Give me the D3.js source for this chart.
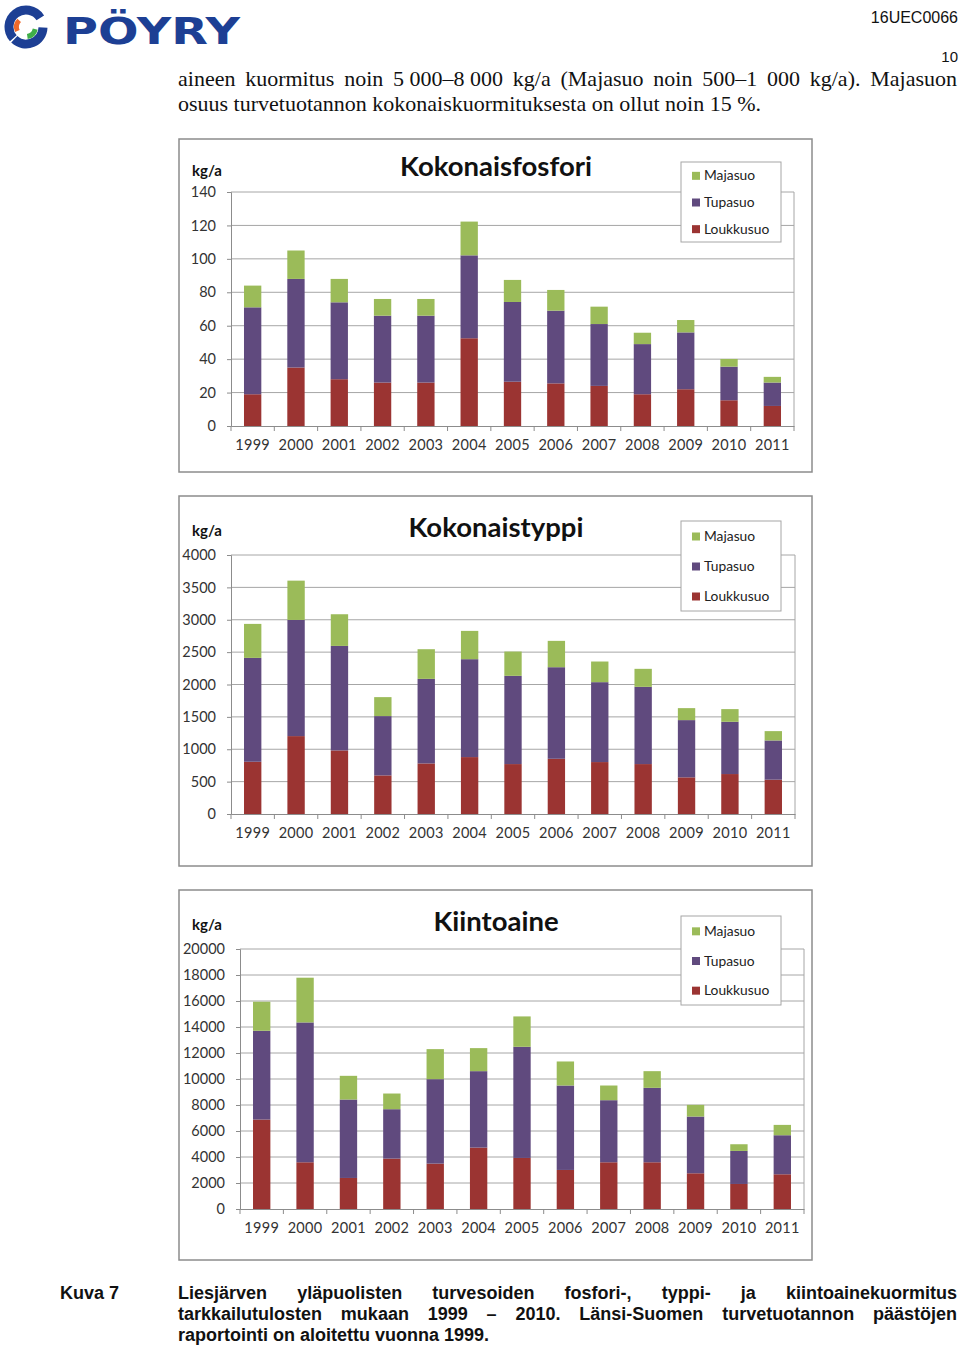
<!DOCTYPE html>
<html>
<head>
<meta charset="utf-8">
<script src="https://cdn.jsdelivr.net/npm/d3@7"></script>
<style>
  body { margin: 0; background: #fff; }
  #page { position: relative; width: 960px; height: 1347px; overflow: hidden; }
  svg { position: absolute; left: 0; top: 0; }
  .line { position: absolute; white-space: nowrap; }
  .just { text-align: justify; text-align-last: justify; white-space: normal; }
  .nb { display: inline-block; white-space: nowrap; }
  .serif { font-family: "Liberation Serif", "DejaVu Serif", serif; font-size: 22px; color: #111; }
  .cap { font-family: "Liberation Sans Narrow", "Liberation Sans", Arial, sans-serif; font-weight: bold; font-size: 18px; color: #111; }
</style>
</head>
<body>
<div id="page">
  <svg id="chart" width="960" height="1347"></svg>
  <div class="line" style="right:2px;top:9px;font:16px 'Liberation Sans',Arial,sans-serif;color:#111;">16UEC0066</div>
  <div class="line" style="right:2px;top:48px;font:15px 'Liberation Sans',Arial,sans-serif;color:#111;">10</div>
  <div class="line just serif" style="left:178px;top:66px;width:779px;">aineen kuormitus noin <span class="nb">5 000–8 000</span> kg/a (Majasuo noin 500–1 000 kg/a). Majasuon</div>
  <div class="line serif" style="left:178px;top:91px;">osuus turvetuotannon kokonaiskuormituksesta on ollut noin 15 %.</div>
  <div class="line cap" style="left:60px;top:1283px;">Kuva 7</div>
  <div class="line just cap" style="left:178px;top:1283px;width:779px;">Liesjärven yläpuolisten turvesoiden fosfori-, typpi- ja kiintoainekuormitus</div>
  <div class="line just cap" style="left:178px;top:1304px;width:779px;">tarkkailutulosten mukaan 1999 – 2010. Länsi-Suomen turvetuotannon päästöjen</div>
  <div class="line cap" style="left:178px;top:1325px;">raportointi on aloitettu vuonna 1999.</div>
</div>
<script>
// === Data ===
const years = ["1999", "2000", "2001", "2002", "2003", "2004", "2005", "2006", "2007", "2008", "2009", "2010", "2011"];
const seriesNames = ["Majasuo", "Tupasuo", "Loukkusuo"];

// Kokonaisfosfori, kg/a
const fosforiLoukkusuo = [19, 35, 28, 26, 26, 52.5, 26.5, 25.5, 24, 19, 22, 15.4, 12];
const fosforiTupasuo   = [52, 53, 46, 40, 40, 49.6, 47.7, 43.5, 37, 30, 34, 20.1, 14];
const fosforiMajasuo   = [13, 17, 14, 10, 10, 20.2, 13.2, 12.4, 10.4, 6.8, 7.4, 4.6, 3.4];
const fosforiTicks = [0, 20, 40, 60, 80, 100, 120, 140];

// Kokonaistyppi, kg/a
const typpiLoukkusuo = [807, 1203, 982, 596, 781, 879, 771, 853, 802, 771, 566, 617, 530];
const typpiTupasuo   = [1604, 1794, 1614, 916, 1306, 1512, 1363, 1414, 1234, 1193, 884, 807, 606];
const typpiMajasuo   = [525, 607, 489, 293, 458, 437, 375, 407, 319, 278, 185, 196, 144];
const typpiTicks = [0, 500, 1000, 1500, 2000, 2500, 3000, 3500, 4000];

// Kiintoaine, kg/a
const kiintoLoukkusuo = [6881, 3594, 2388, 3877, 3492, 4724, 3928, 3004, 3594, 3594, 2747, 1926, 2670];
const kiintoTupasuo   = [6829, 10758, 6033, 3799, 6495, 5879, 8550, 6495, 4776, 5726, 4365, 2541, 3004];
const kiintoMajasuo   = [2234, 3440, 1823, 1207, 2311, 1772, 2336, 1849, 1129, 1283, 898, 514, 796];
const kiintoTicks = [0, 2000, 4000, 6000, 8000, 10000, 12000, 14000, 16000, 18000, 20000];

const COLORS = { Majasuo: "#9bbb59", Tupasuo: "#604a7e", Loukkusuo: "#9b3432" };
const FONT = "Lato, 'Open Sans', sans-serif";

const svg = d3.select("#chart");

// --- Pöyry logo ---
function drawLogo() {
    const g = svg.append("g");
    const cx = 26, cy = 27, r = 17;
    const arc = d3.arc().innerRadius(r - 4.5).outerRadius(r + 4.5);
    g.append("path").attr("transform", `translate(${cx},${cy})`)
        .attr("d", arc({ startAngle: -2.3, endAngle: 1.0 })).attr("fill", "#1d3f94");
    g.append("path").attr("transform", `translate(${cx},${cy})`)
        .attr("d", arc({ startAngle: 1.6, endAngle: 3.9 })).attr("fill", "#1d3f94");
    const inner = d3.arc().innerRadius(7).outerRadius(12);
    g.append("path").attr("transform", `translate(${cx},${cy})`)
        .attr("d", inner({ startAngle: -2.0, endAngle: -0.8 })).attr("fill", "#ef6a2c");
    g.append("path").attr("transform", `translate(${cx},${cy})`)
        .attr("d", inner({ startAngle: 1.8, endAngle: 3.0 })).attr("fill", "#3fae49");
    g.append("text").attr("x", 63).attr("y", 44)
        .attr("textLength", 177).attr("lengthAdjust", "spacingAndGlyphs")
        .style("font-family", "'DejaVu Sans', sans-serif").style("font-weight", "bold")
        .style("font-size", "38px").attr("fill", "#1d3f94").text("PÖYRY");
}
drawLogo();

// --- Generic stacked bar chart ---
function drawChart(cfg) {
    const g = svg.append("g");

    // outer frame
    g.append("rect").attr("x", cfg.frame.x).attr("y", cfg.frame.y)
        .attr("width", cfg.frame.w).attr("height", cfg.frame.h)
        .attr("fill", "#fff").attr("stroke", "#8c8c8c").attr("stroke-width", 1.5);

    const x = d3.scaleBand().domain(years).range([cfg.plot.left, cfg.plot.right]).paddingInner(0.6).paddingOuter(0.3);
    const xOuter = d3.scaleBand().domain(years).range([cfg.plot.left, cfg.plot.right]);
    const y = d3.scaleLinear().domain([0, d3.max(cfg.ticks)]).range([cfg.plot.bottom, cfg.plot.top]);

    // gridlines
    g.append("g").selectAll("line").data(cfg.ticks.slice(1)).join("line")
        .attr("x1", cfg.plot.left).attr("x2", cfg.plot.right)
        .attr("y1", d => y(d)).attr("y2", d => y(d))
        .attr("stroke", "#a6a6a6").attr("stroke-width", 1);
    // right plot border
    g.append("line").attr("x1", cfg.plot.right).attr("x2", cfg.plot.right)
        .attr("y1", cfg.plot.top).attr("y2", cfg.plot.bottom)
        .attr("stroke", "#a6a6a6");

    // y axis
    const yAxis = g.append("g").attr("transform", `translate(${cfg.plot.left},0)`)
        .call(d3.axisLeft(y).tickValues(cfg.ticks).tickSize(4).tickPadding(11).tickFormat(d3.format("d")));
    yAxis.select(".domain").attr("stroke", "#8c8c8c");
    yAxis.selectAll(".tick line").attr("stroke", "#8c8c8c");
    yAxis.selectAll("text").style("font-family", FONT).style("font-size", "14.5px").attr("fill", "#333");

    // x axis with tick marks between categories
    const xAxis = g.append("g").attr("transform", `translate(0,${cfg.plot.bottom})`)
        .call(d3.axisBottom(xOuter).tickSize(0).tickPadding(14));
    xAxis.select(".domain").attr("stroke", "#8c8c8c");
    xAxis.selectAll("text").style("font-family", FONT).style("font-size", "14.5px")
        .style("letter-spacing", "0.3px").attr("fill", "#333");
    const edges = years.map(d => xOuter(d)).concat([cfg.plot.right]);
    g.append("g").selectAll("line").data(edges).join("line")
        .attr("x1", d => d).attr("x2", d => d)
        .attr("y1", cfg.plot.bottom).attr("y2", cfg.plot.bottom + 5)
        .attr("stroke", "#8c8c8c");

    // stacked bars: Loukkusuo at bottom, then Tupasuo, then Majasuo
    const rows = years.map((yr, i) => ({
        year: yr, Loukkusuo: cfg.loukkusuo[i], Tupasuo: cfg.tupasuo[i], Majasuo: cfg.majasuo[i]
    }));
    const stack = d3.stack().keys(["Loukkusuo", "Tupasuo", "Majasuo"])(rows);
    g.append("g").selectAll("g").data(stack).join("g")
        .attr("fill", d => COLORS[d.key])
        .selectAll("rect").data(d => d).join("rect")
        .attr("x", d => x(d.data.year))
        .attr("width", x.bandwidth())
        .attr("y", d => y(d[1]))
        .attr("height", d => y(d[0]) - y(d[1]));

    // title and unit label
    g.append("text").attr("x", 496).attr("y", cfg.titleY).attr("text-anchor", "middle")
        .style("font-family", FONT).style("font-weight", "bold").style("font-size", "27.5px")
        .attr("fill", "#111").text(cfg.title);
    g.append("text").attr("x", 192).attr("y", cfg.unitY)
        .style("font-family", FONT).style("font-weight", "bold").style("font-size", "15px")
        .attr("fill", "#111").text("kg/a");

    // legend
    const lg = g.append("g").attr("transform", `translate(${cfg.legend.x},${cfg.legend.y})`);
    lg.append("rect").attr("width", 100).attr("height", cfg.legend.h)
        .attr("fill", "#fff").attr("stroke", "#a6a6a6");
    const step = cfg.legend.h / 3;
    seriesNames.forEach((name, i) => {
        const cy = step * (i + 0.5) + 0.5;
        lg.append("rect").attr("x", 11).attr("y", cy - 4).attr("width", 8).attr("height", 8).attr("fill", COLORS[name]);
        lg.append("text").attr("x", 23).attr("y", cy + 4.5)
            .style("font-family", FONT).style("font-size", "13.8px").attr("fill", "#222").text(name);
    });
}

drawChart({
    title: "Kokonaisfosfori", titleY: 176, unitY: 176,
    frame: { x: 179, y: 139, w: 633, h: 333 },
    plot: { left: 231, right: 794, top: 192, bottom: 426 },
    legend: { x: 681, y: 162, h: 80 },
    ticks: fosforiTicks,
    loukkusuo: fosforiLoukkusuo, tupasuo: fosforiTupasuo, majasuo: fosforiMajasuo
});
drawChart({
    title: "Kokonaistyppi", titleY: 537, unitY: 536,
    frame: { x: 179, y: 496, w: 633, h: 370 },
    plot: { left: 231, right: 795, top: 555, bottom: 814 },
    legend: { x: 681, y: 521, h: 90 },
    ticks: typpiTicks,
    loukkusuo: typpiLoukkusuo, tupasuo: typpiTupasuo, majasuo: typpiMajasuo
});
drawChart({
    title: "Kiintoaine", titleY: 931, unitY: 930,
    frame: { x: 179, y: 890, w: 633, h: 370 },
    plot: { left: 240, right: 804, top: 949, bottom: 1209 },
    legend: { x: 681, y: 916, h: 89 },
    ticks: kiintoTicks,
    loukkusuo: kiintoLoukkusuo, tupasuo: kiintoTupasuo, majasuo: kiintoMajasuo
});
</script>
</body>
</html>
